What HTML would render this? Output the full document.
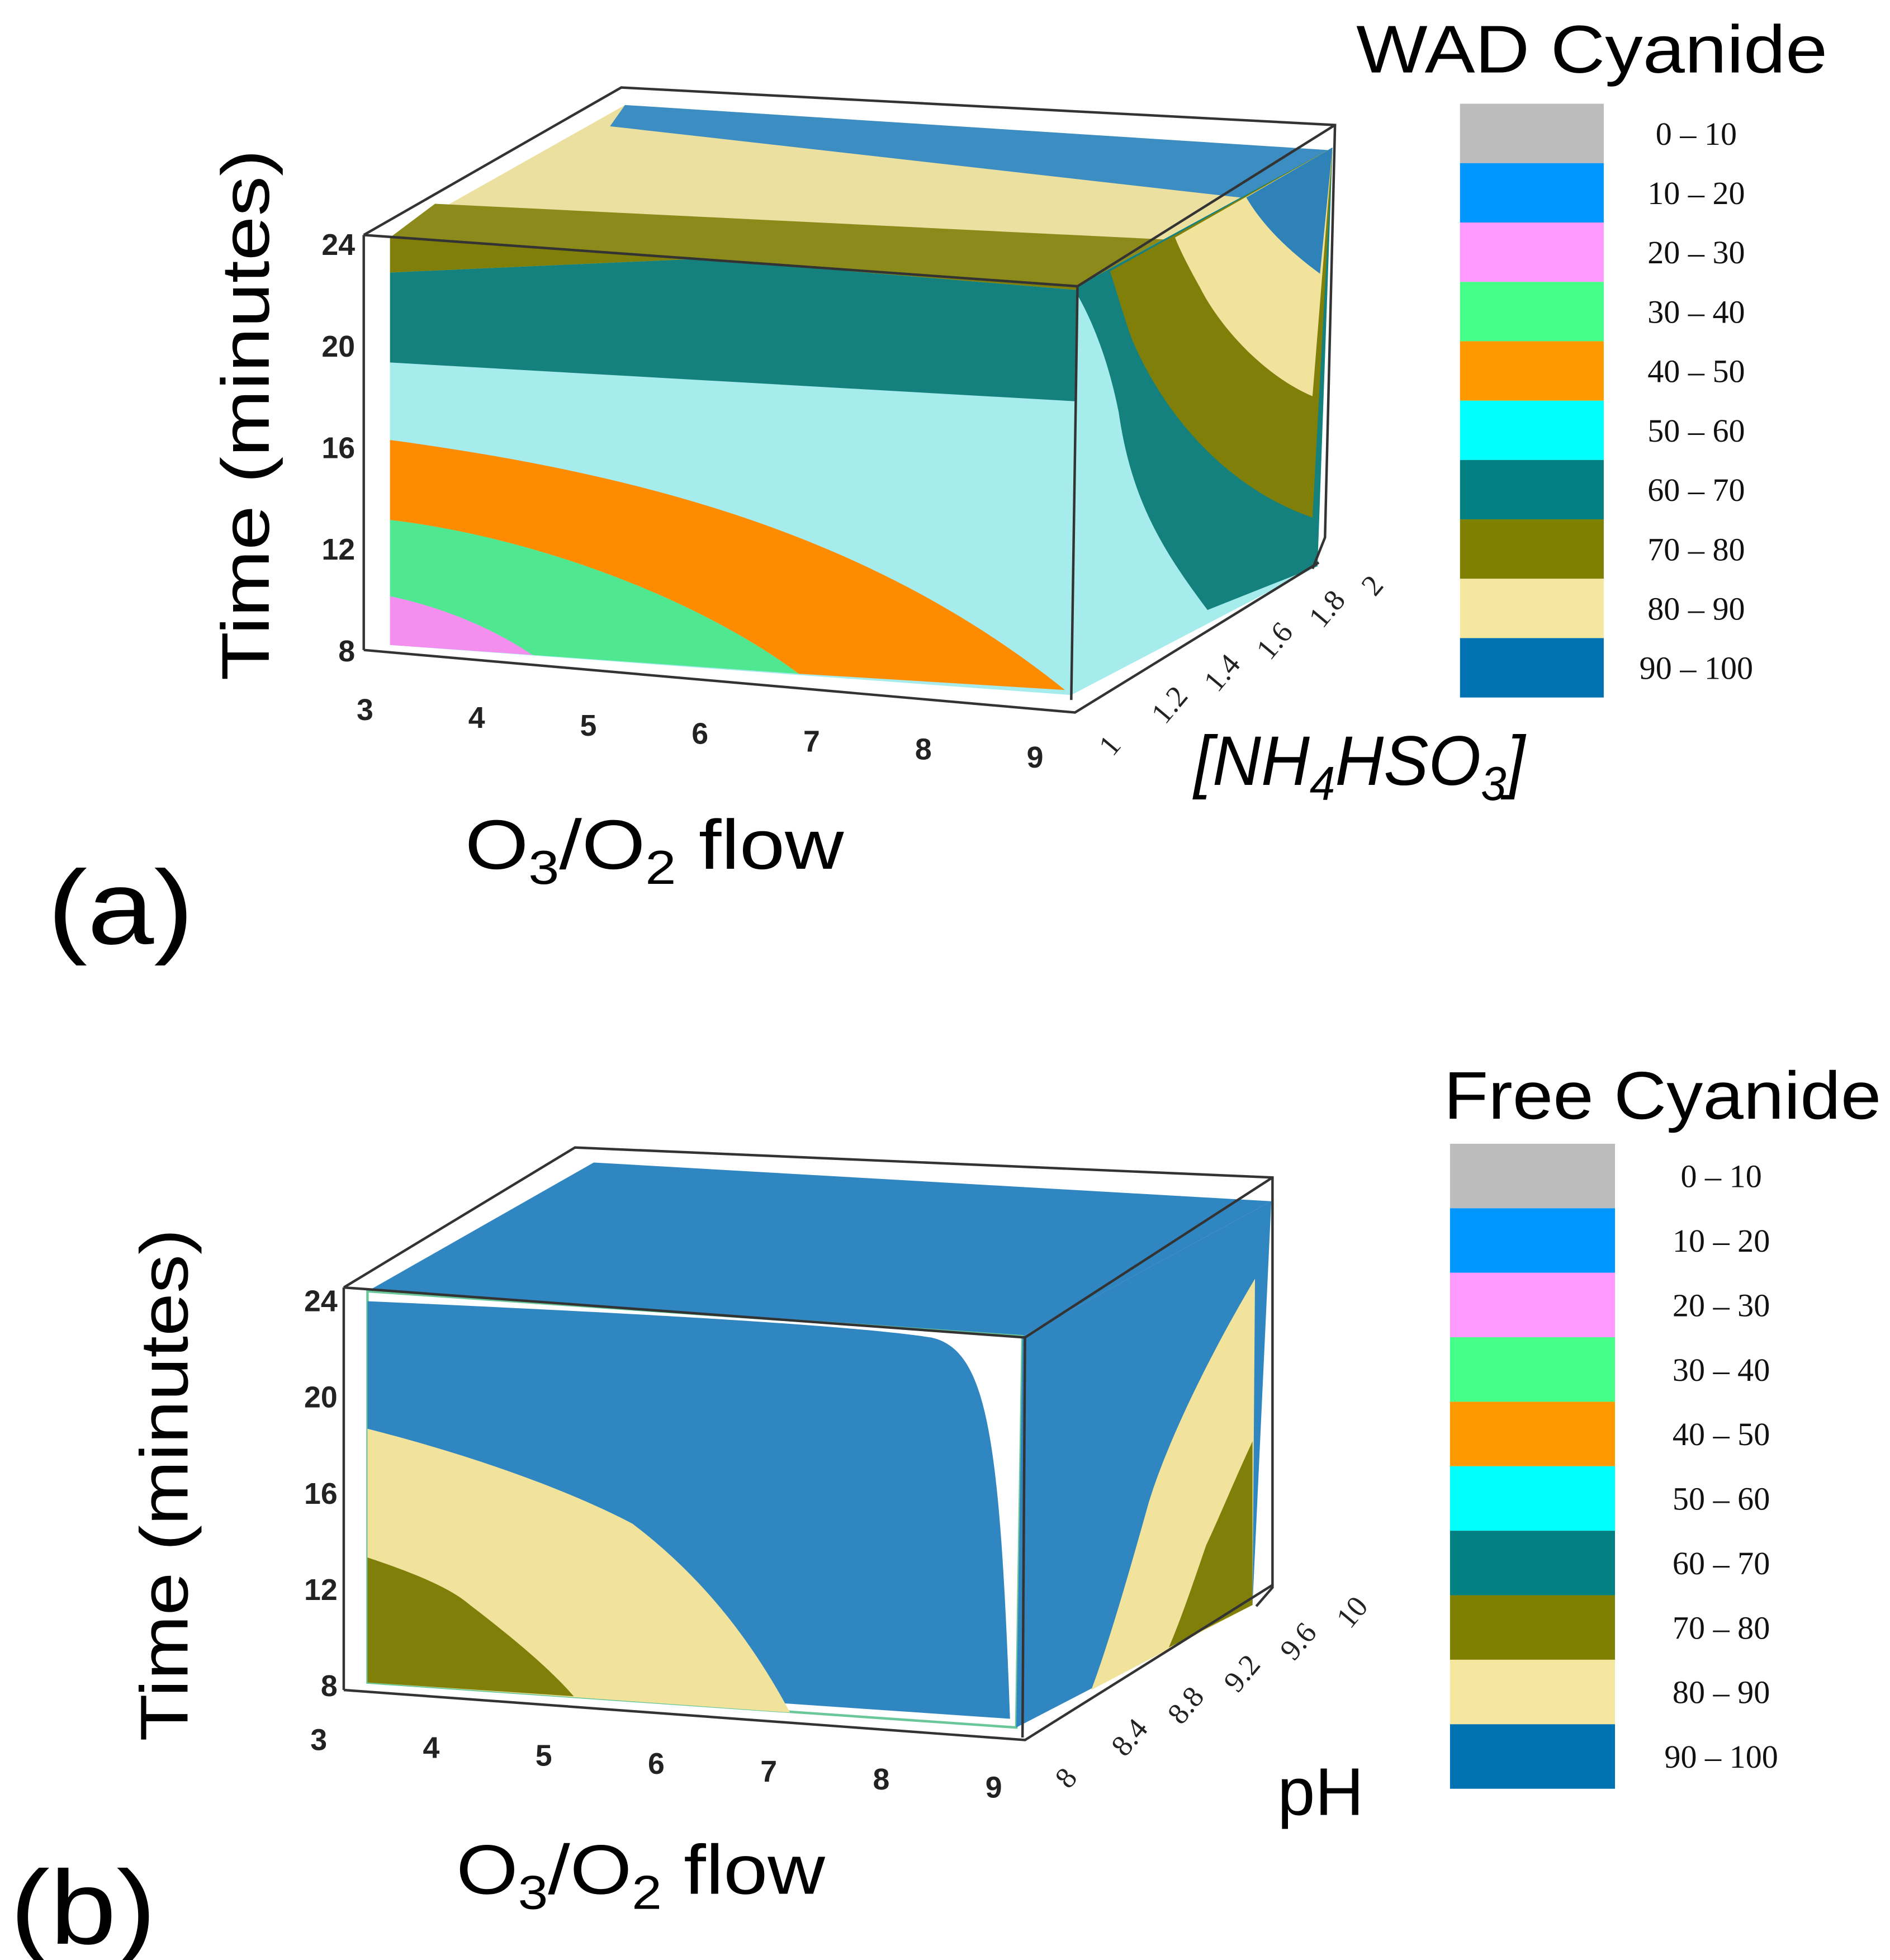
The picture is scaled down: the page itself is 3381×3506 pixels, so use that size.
<!DOCTYPE html>
<html><head><meta charset="utf-8"><style>
html,body{margin:0;padding:0;background:#fff;}
svg{display:block;}
text{font-family:"Liberation Sans",sans-serif;}
.tk{font-family:"Liberation Sans",sans-serif;font-weight:bold;font-size:24px;fill:#222;}
.lg{font-family:"Liberation Serif",serif;font-size:26px;fill:#111;}
</style></head><body>
<svg id="fig" width="3381" height="3506" viewBox="0 0 1512 1568" preserveAspectRatio="none" xmlns="http://www.w3.org/2000/svg">
<g>
 <polygon points="312,190 500,84 1062,120 862,229" fill="#ece0a0"/>
 <polygon points="500,84 1062,120 1040,150 992,158 488,101" fill="#3b8dc2"/>
 <polygon points="312,190 348,163 940,192 910,218 862,229" fill="#8c8a1a"/>
 <polygon points="312,190 862,229 857,556 312,516" fill="#a6ecec"/>
 <polygon points="312,218 560,207 862,232 860,321 312,290" fill="#15817f"/>
 <polygon points="312,190 862,229 862,232 560,207 312,218" fill="#7f7f0a"/>
 <path d="M312,352 C520,380 700,430 852,552 L639,539 C560,480 430,430 312,416 Z" fill="#ff8c00"/>
 <path d="M312,416 C430,430 560,480 639,539 L426,524 C390,500 350,485 312,477 Z" fill="#4fe890"/>
 <path d="M312,477 C350,485 390,500 426,524 L312,516 Z" fill="#f48ff0"/>
 <polygon points="862,229 1066,118 1054,453 857,556" fill="#a6ecec"/>
 <path d="M862,229 L1066,118 L1054,453 L966,488 C930,440 905,400 895,330 C885,280 870,250 862,236 Z" fill="#15817f"/>
 <path d="M888,217 L1066,118 L1050,414 C980,390 930,330 905,270 C898,250 893,232 888,217 Z" fill="#7f7f0a"/>
 <path d="M940,190 L1066,118 L1050,317 C1010,300 975,260 960,230 C950,212 944,200 940,190 Z" fill="#f2e39c"/>
 <path d="M997,158 L1066,118 L1056,219 C1030,200 1010,180 997,158 Z" fill="#2f82b8"/>
 <g fill="none" stroke="#333" stroke-width="2">
  <polyline points="291,188 497,70 1068,100 1060,430 1050,455"/>
  <polyline points="291,188 862,229 1068,100"/>
  <line x1="862" y1="229" x2="857" y2="560"/>
  <line x1="291" y1="188" x2="291" y2="520"/>
  <polyline points="291,520 860,570 1055,450"/>
 </g>
 <g id="a-yticks"></g><g id="a-xticks"></g><g id="a-zticks"></g>
 <text transform="translate(215,332) rotate(-90)" text-anchor="middle" font-size="54" textLength="425" lengthAdjust="spacingAndGlyphs">Time (minutes)</text>
 <text x="372" y="695" font-size="56" textLength="303" lengthAdjust="spacingAndGlyphs">O<tspan font-size="38" dy="12">3</tspan><tspan dy="-12">/O</tspan><tspan font-size="38" dy="12">2</tspan><tspan dy="-12"> flow</tspan></text>
 <text x="955" y="628" font-size="56" font-family="Liberation Serif" font-style="italic" textLength="265" lengthAdjust="spacingAndGlyphs">[NH<tspan font-size="38" dy="12">4</tspan><tspan dy="-12">HSO</tspan><tspan font-size="38" dy="12">3</tspan><tspan dy="-12">]</tspan></text>
 <text x="38" y="755" font-size="84" textLength="117" lengthAdjust="spacingAndGlyphs">(a)</text>
 <text x="1085" y="58" font-size="54" textLength="377" lengthAdjust="spacingAndGlyphs">WAD Cyanide</text>
 <g id="a-legend"></g>
</g>
<g>
 <polygon points="294,1033 475,930 1017,961 818,1069" fill="#2f86c0"/>
 <polygon points="294,1033 818,1069 813,1382 294,1346" fill="#ffffff" stroke="#6ac79a" stroke-width="2"/>
 <path d="M294,1041 C500,1050 680,1060 745,1070 C790,1080 800,1150 808,1375 L294,1340 Z" fill="#2f86c0"/>
 <path d="M294,1143 C400,1170 470,1200 506,1219 C560,1260 600,1310 632,1370 L294,1346 Z" fill="#f2e39c"/>
 <path d="M294,1246 C330,1258 360,1270 376,1284 C410,1310 440,1335 459,1357 L294,1346 Z" fill="#7f7f0a"/>
 <polygon points="818,1069 1017,961 1002,1284 813,1382" fill="#2f86c0"/>
 <path d="M1004,1023 C970,1080 935,1150 919,1202 C900,1270 885,1320 873,1352 L1002,1284 Z" fill="#f2e39c"/>
 <path d="M1002,1153 C985,1190 975,1215 965,1236 C955,1265 945,1295 935,1318 L1002,1284 Z" fill="#7f7f0a"/>
 <g fill="none" stroke="#333" stroke-width="2">
  <polyline points="275,1030 460,918 1018,942 1018,1270 1005,1285"/>
  <polyline points="275,1030 820,1070 1018,942"/>
  <line x1="820" y1="1070" x2="818" y2="1390"/>
  <line x1="275" y1="1030" x2="275" y2="1352"/>
  <polyline points="275,1352 820,1392 1018,1268"/>
 </g>
 <g id="b-yticks"></g><g id="b-xticks"></g><g id="b-zticks"></g>
 <text transform="translate(150,1188) rotate(-90)" text-anchor="middle" font-size="54" textLength="410" lengthAdjust="spacingAndGlyphs">Time (minutes)</text>
 <text x="365" y="1515" font-size="56" textLength="295" lengthAdjust="spacingAndGlyphs">O<tspan font-size="38" dy="12">3</tspan><tspan dy="-12">/O</tspan><tspan font-size="38" dy="12">2</tspan><tspan dy="-12"> flow</tspan></text>
 <text x="1022" y="1452" font-size="54">pH</text>
 <text x="8" y="1555" font-size="84" textLength="117" lengthAdjust="spacingAndGlyphs">(b)</text>
 <text x="1155" y="895" font-size="54" textLength="350" lengthAdjust="spacingAndGlyphs">Free Cyanide</text>
 <g id="b-legend"></g>
</g>
</svg>
<script>
const legendRanges=["0 – 10","10 – 20","20 – 30","30 – 40","40 – 50","50 – 60","60 – 70","70 – 80","80 – 90","90 – 100"];
const legendColors=["#bcbcbc","#0096ff","#ff99ff","#44ff88","#ff9900","#00ffff","#008080","#808000","#f5e6a0","#0072b2"];
const timeTicks=["24","20","16","12","8"];
const flowTicks=["3","4","5","6","7","8","9"];
const nh4Ticks=["1","1.2","1.4","1.6","1.8","2"];
const phTicks=["8","8.4","8.8","9.2","9.6","10"];
const NS="http://www.w3.org/2000/svg";
function txt(g,x,y,s,cls,rot){const t=document.createElementNS(NS,"text");t.setAttribute("x",x);t.setAttribute("y",y);t.setAttribute("class",cls);
if(rot)t.setAttribute("transform","rotate("+rot+" "+x+" "+y+")");t.textContent=s;g.appendChild(t);return t;}
function legend(id,x,y0,w,h,lx){const g=document.getElementById(id);
legendRanges.forEach((r,i)=>{const rc=document.createElementNS(NS,"rect");rc.setAttribute("x",x);rc.setAttribute("y",y0+i*h);rc.setAttribute("width",w);rc.setAttribute("height",h);rc.setAttribute("fill",legendColors[i]);


g.appendChild(rc);
const t=txt(g,lx,y0+i*h+h/2+9,r,"lg");t.setAttribute("text-anchor","middle");

});}
legend("a-legend",1168,83,115,47.5,1357);
legend("b-legend",1160,915,132,51.6,1377);
function ticks(id,arr,x0,y0,x1,y1,anchor,rot,fs){const g=document.getElementById(id);
arr.forEach((s,i)=>{const f=arr.length>1?i/(arr.length-1):0;const x=x0+(x1-x0)*f,y=y0+(y1-y0)*f;
const t=txt(g,x,y,s,"tk",rot);t.setAttribute("text-anchor",anchor);if(fs)t.setAttribute("font-size",fs);

});}
ticks("a-yticks",timeTicks,284,204,284,529,"end");
ticks("a-xticks",flowTicks,292,576,828,614,"middle");
ticks("a-zticks",nh4Ticks,890,606,1100,478,"start",-50,28);
ticks("b-yticks",timeTicks,270,1049,270,1357,"end");
ticks("b-xticks",flowTicks,255,1400,795,1438,"middle");
ticks("b-zticks",phTicks,855,1432,1080,1304,"start",-50,28);
document.querySelectorAll("#b-zticks text,#a-zticks text").forEach(t=>{t.style.fontWeight="normal";t.style.fontFamily='"Liberation Serif",serif';});
</script>
</body></html>
